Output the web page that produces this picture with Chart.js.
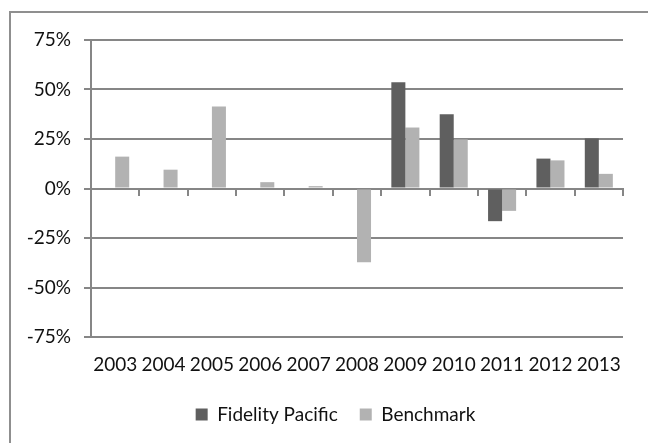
<!DOCTYPE html>
<html>
<head>
<meta charset="utf-8">
<script src="https://cdn.jsdelivr.net/npm/chart.js@4"></script>
<style>
  html, body { margin: 0; padding: 0; background: #fff; }
  #wrap { position: relative; width: 648px; height: 443px; overflow: hidden; }
  #frame { position: absolute; left: 9px; top: 11px; width: 700px; height: 500px; border: 2px solid #8f8f8f; box-sizing: border-box; }
  canvas { position: absolute; left: 0; top: 0; }
</style>
</head>
<body>
<div id="wrap">
  <div id="frame"></div>
  <canvas id="c" width="648" height="443"></canvas>
</div>
<script>
const years = ['2003','2004','2005','2006','2007','2008','2009','2010','2011','2012','2013'];
const fidelityPacific = [null, null, null, null, null, null, 53.7, 37.5, -16.5, 15.1, 25.3];
const benchmark = [16.1, 9.5, 41.4, 3.2, 1.2, -37.3, 30.8, 24.8, -11.3, 14.2, 7.4];
const yTicks = [-75, -50, -25, 0, 25, 50, 75];

const FONT = 'Lato, "Open Sans", sans-serif';
const GRID = '#868686';

const legendShift = {
  id: 'legendShift',
  afterLayout(chart) {
    const lg = chart.legend;
    if (lg) { lg.left += 24; lg.right += 24; }
  }
};

new Chart(document.getElementById('c'), {
  type: 'bar',
  data: {
    labels: years,
    datasets: [
      { label: 'Fidelity Pacific', data: fidelityPacific, backgroundColor: '#5f5f5f' },
      { label: 'Benchmark', data: benchmark, backgroundColor: '#b2b2b2' }
    ]
  },
  plugins: [legendShift],
  options: {
    responsive: false,
    animation: false,
    devicePixelRatio: 1,
    datasets: { bar: { categoryPercentage: 0.58, barPercentage: 1.0 } },
    layout: { padding: { left: 0, right: 25, top: 40, bottom: 9 } },
    scales: {
      y: {
        min: -75, max: 75,
        afterFit: s => { s.width = 91; },
        afterBuildTicks: s => { s.ticks = yTicks.map(v => ({ value: v })); },
        ticks: { callback: v => v + '%', font: { family: FONT, size: 19 }, color: '#111', padding: 13 },
        grid: { color: GRID, lineWidth: 2, tickLength: 7 },
        border: { display: true, color: GRID, width: 2 }
      },
      x: {
        position: 'bottom',
        afterFit: s => { s.height = 46; },
        grid: { display: false, drawTicks: false },
        border: { display: false },
        ticks: { font: { family: FONT, size: 19 }, color: '#111', padding: 16, maxRotation: 0, autoSkip: false }
      },
      x0: {
        type: 'category',
        position: { y: 0 },
        offset: true,
        grid: { drawOnChartArea: false, drawTicks: true, tickLength: 6, color: GRID, lineWidth: 2 },
        border: { display: true, color: GRID, width: 2 },
        ticks: { display: false }
      }
    },
    plugins: {
      legend: {
        position: 'bottom',
        labels: { font: { family: FONT, size: 19 }, color: '#111', boxWidth: 12, boxHeight: 12, padding: 22 }
      },
      tooltip: { enabled: false }
    }
  }
});
</script>
</body>
</html>
